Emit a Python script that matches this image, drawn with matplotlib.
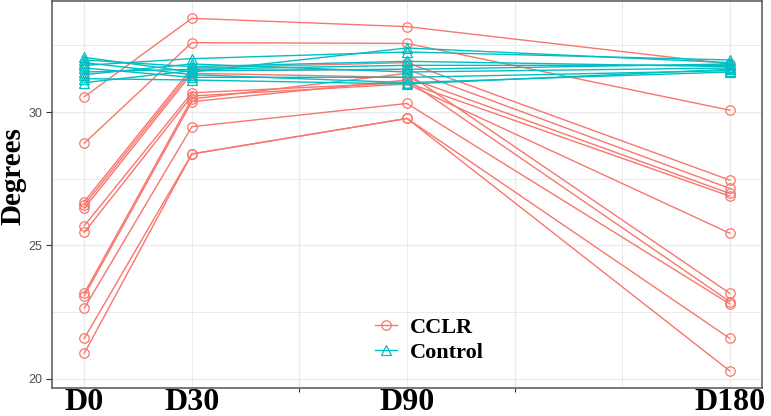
import matplotlib
matplotlib.use("Agg")
import matplotlib.pyplot as plt
from matplotlib.lines import Line2D

days = [0, 30, 90, 180]
day_labels = ["D0", "D30", "D90", "D180"]

# CCLR subjects: values at D0, D30, D90, D180
cclr = [
    [30.57, 33.51, 33.20, 31.80],
    [28.83, 32.60, 32.57, 30.07],
    [26.64, 31.65, 31.85, 27.45],
    [26.52, 31.55, 31.60, 27.14],
    [26.39, 31.45, 31.30, 26.95],
    [25.74, 30.72, 31.10, 26.85],
    [25.49, 30.60, 31.05, 25.46],
    [23.21, 30.49, 31.45, 23.21],
    [23.11, 30.39, 31.20, 22.90],
    [22.65, 29.45, 30.32, 22.81],
    [21.52, 28.43, 29.76, 21.52],
    [20.96, 28.43, 29.76, 20.30],
]

# Control subjects: values at D0, D30, D90, D180
control = [
    [32.05, 31.50, 32.40, 31.85],
    [31.95, 31.70, 31.90, 31.70],
    [31.85, 31.40, 31.10, 31.50],
    [31.75, 32.00, 32.25, 31.95],
    [31.65, 31.30, 31.30, 31.55],
    [31.50, 31.60, 31.75, 31.75],
    [31.40, 31.80, 31.50, 31.65],
    [31.25, 31.20, 31.05, 31.60],
    [31.10, 31.55, 31.60, 31.80],
]

yticks = [20, 25, 30]

c_cclr = "#F8766D"
c_ctrl = "#00BFC4"

fig = plt.figure(figsize=(7.71, 4.16), dpi=100)
ax = fig.add_axes([52/771, 28/416, 710/771, 387/416])

# grid
for x in range(0, 181, 30):
    ax.axvline(x, color="#EBEBEB", lw=1.0 if x % 60 == 0 else 0.7, zorder=0)
for y in [20, 22.5, 25, 27.5, 30, 32.5]:
    ax.axhline(y, color="#EBEBEB", lw=1.0 if y % 5 == 0 else 0.7, zorder=0)

for s in cclr:
    ax.plot(days, s, color=c_cclr, lw=1.0, marker="o", markersize=6.8,
            markerfacecolor="none", markeredgecolor=c_cclr, markeredgewidth=0.9, zorder=2)
for s in control:
    ax.plot(days, s, color=c_ctrl, lw=1.0, marker="^", markersize=6.8,
            markerfacecolor="none", markeredgecolor=c_ctrl, markeredgewidth=0.9, zorder=3)

ax.set_xlim(-9, 189)
ax.set_ylim(19.66, 34.16)

ax.set_yticks(yticks)
ax.set_yticklabels([str(v) for v in yticks], fontsize=9, color="#4D4D4D",
                   family="Liberation Sans")
ax.tick_params(axis="y", length=4, color="#333333", width=0.8, pad=3)

ax.set_xticks(days)
ax.set_xticklabels(day_labels, fontsize=23, fontweight="bold",
                   family="Liberation Serif", color="black")
ax.tick_params(axis="x", which="major", length=0, pad=0)
ax.set_xticks([0, 60, 120, 180], minor=True)
ax.tick_params(axis="x", which="minor", length=3, color="#333333", width=0.8)

ax.set_ylabel("Degrees", fontsize=21, fontweight="bold", family="Liberation Serif")
ax.yaxis.set_label_coords((26 - 52) / 710, (388 - 176) / 387)

for sp in ax.spines.values():
    sp.set_color("#555555")
    sp.set_linewidth(1.1)

handles = [
    Line2D([0], [0], color=c_cclr, lw=1.0, marker="o", markersize=6.8,
           markerfacecolor="none", markeredgewidth=0.9),
    Line2D([0], [0], color=c_ctrl, lw=1.0, marker="^", markersize=6.8,
           markerfacecolor="none", markeredgewidth=0.9),
]
leg = fig.legend(handles, ["CCLR", "Control"], loc="upper left",
                 bbox_to_anchor=(375/771, 1 - 317/416), frameon=False,
                 prop={"family": "Liberation Serif", "weight": "bold", "size": 16},
                 handlelength=1.0, handletextpad=0.55, labelspacing=0.22,
                 borderpad=0, borderaxespad=0)

fig.savefig("out.png", dpi=100)
